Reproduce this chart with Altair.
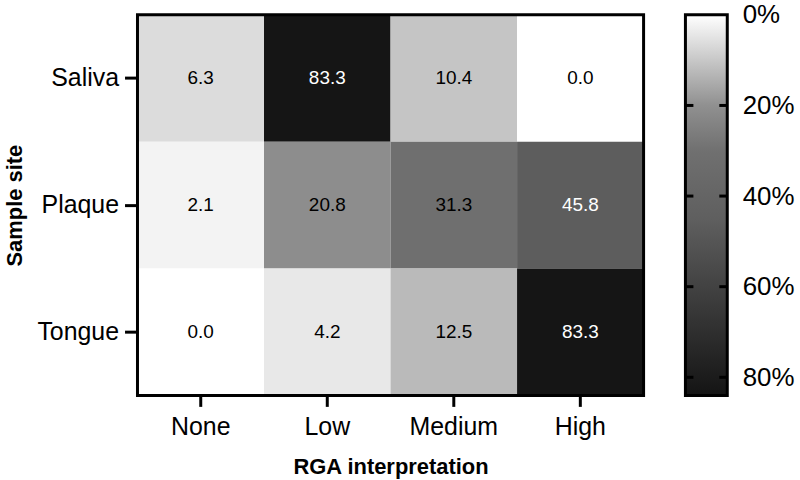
import altair as alt
import pandas as pd

# Percent of samples per RGA interpretation class, by sample site
sites = ["Saliva", "Plaque", "Tongue"]
levels = ["None", "Low", "Medium", "High"]
saliva = [6.3, 83.3, 10.4, 0.0]
plaque = [2.1, 20.8, 31.3, 45.8]
tongue = [0.0, 4.2, 12.5, 83.3]
scale_ticks = [0, 20, 40, 60, 80]

# grey ramp (percent -> grey)
ramp_domain = [0, 20, 30, 45, 84]
ramp_range = ["#ffffff", "#909090", "#707070", "#5f5f5f", "#141414"]
ramp_max = 84

FONT = "Liberation Sans"
W, H = 508, 382
BAR_W = 42

rows = []
for site, vals in zip(sites, [saliva, plaque, tongue]):
    for lvl, v in zip(levels, vals):
        rows.append({"site": site, "level": lvl, "pct": v})
df = pd.DataFrame(rows)

color_scale = alt.Scale(domain=ramp_domain, range=ramp_range, interpolate="rgb")

x_enc = alt.X(
    "level:N", sort=levels,
    scale=alt.Scale(paddingInner=0, paddingOuter=0),
    axis=alt.Axis(
        title="RGA interpretation", labelAngle=0, labelFontSize=25, labelFont=FONT,
        labelColor="black", labelPadding=8, tickSize=11, tickWidth=3, tickColor="black",
        domain=False, titleFont=FONT, titleFontSize=22, titleFontWeight="bold",
        titleColor="black", titlePadding=17, zindex=1,
    ),
)
y_enc = alt.Y(
    "site:N", sort=sites,
    scale=alt.Scale(paddingInner=0, paddingOuter=0),
    axis=alt.Axis(
        title="Sample site", labelFontSize=25, labelFont=FONT, labelColor="black",
        labelPadding=6, tickSize=13, tickWidth=3, tickColor="black", domain=False,
        titleFont=FONT, titleFontSize=22, titleFontWeight="bold", titleColor="black",
        titlePadding=10, zindex=1,
    ),
)

cells = alt.Chart(df).mark_rect().encode(
    x=x_enc, y=y_enc,
    color=alt.Color("pct:Q", scale=color_scale, legend=None),
)

labels = alt.Chart(df).mark_text(font=FONT, fontSize=19, baseline="middle").encode(
    x=alt.X("level:N", sort=levels),
    y=alt.Y("site:N", sort=sites),
    text=alt.Text("pct:Q", format=".1f"),
    color=alt.condition("datum.pct > 40", alt.value("white"), alt.value("black")),
)

frame = alt.Chart(pd.DataFrame({"k": [0]})).mark_rect(
    fillOpacity=0, stroke="black", strokeWidth=3
).encode(x=alt.value(0), x2=alt.value(W), y=alt.value(0), y2=alt.value(H))

heatmap = alt.layer(cells, labels, frame).properties(width=W, height=H)

# colour bar
stops = [
    alt.GradientStop(offset=d / ramp_max, color=c)
    for d, c in zip(ramp_domain, ramp_range)
]
bar = alt.Chart(pd.DataFrame({"k": [0]})).mark_rect(
    fill=alt.Gradient(gradient="linear", stops=stops, x1=0, x2=0, y1=0, y2=1),
    stroke="black", strokeWidth=3,
).encode(x=alt.value(0), x2=alt.value(BAR_W), y=alt.value(0), y2=alt.value(H))

tick_df = pd.DataFrame({"v": scale_ticks})
bar_y = alt.Y(
    "v:Q",
    scale=alt.Scale(domain=[0, ramp_max], reverse=True, nice=False, zero=False),
    axis=alt.Axis(
        orient="right", values=scale_ticks, labelExpr="datum.value + '%'",
        title=None, ticks=False, tickSize=0, domain=False, grid=False,
        labelFont=FONT, labelFontSize=26, labelColor="black", labelPadding=15,
        labelFlush=False, labelOverlap=False,
    ),
)
left_ticks = alt.Chart(tick_df).transform_filter("datum.v > 0").mark_rule(
    color="black", strokeWidth=3
).encode(y=bar_y, x=alt.value(0), x2=alt.value(8))
right_ticks = alt.Chart(tick_df).transform_filter("datum.v > 0").mark_rule(
    color="black", strokeWidth=3
).encode(y=bar_y, x=alt.value(BAR_W - 8), x2=alt.value(BAR_W))

colorbar = alt.layer(bar, left_ticks, right_ticks).properties(width=BAR_W, height=H)

chart = alt.hconcat(heatmap, colorbar, spacing=38).properties(
    padding={"left": 3, "top": 1, "right": 5, "bottom": 2},
    background="white",
).configure_view(strokeWidth=0)

chart.save("out.html", embed_options={"renderer": "svg", "actions": False})
